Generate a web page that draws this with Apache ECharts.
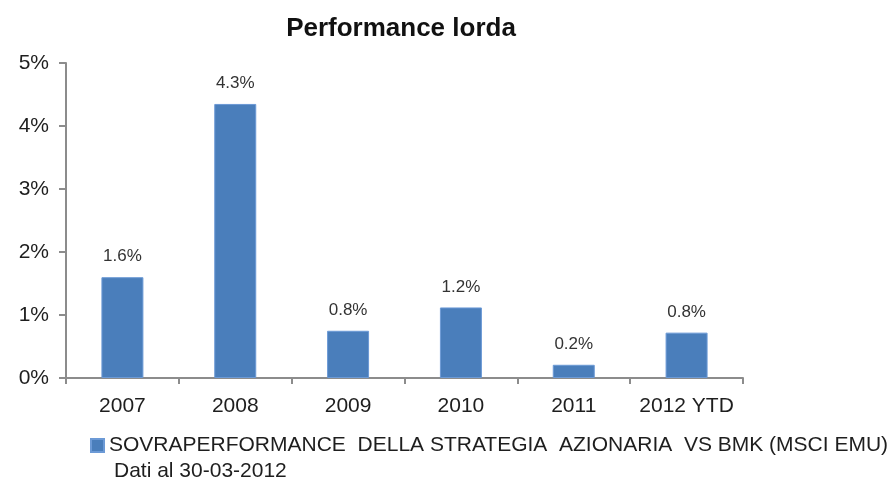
<!DOCTYPE html>
<html>
<head>
<meta charset="utf-8">
<script src="https://cdn.jsdelivr.net/npm/echarts@6/dist/echarts.min.js"></script>
<style>
  html, body { margin: 0; padding: 0; background: #fff; }
  #chart { width: 892px; height: 483px; }
</style>
</head>
<body>
<div id="chart"></div>
<script>
var categories = ['2007', '2008', '2009', '2010', '2011', '2012 YTD'];
var values = [1.6, 4.35, 0.75, 1.12, 0.21, 0.72];
var valueLabels = ['1.6%', '4.3%', '0.8%', '1.2%', '0.2%', '0.8%'];
var seriesName = 'SOVRAPERFORMANCE  DELLA STRATEGIA  AZIONARIA  VS BMK (MSCI EMU)';

var chart = echarts.init(document.getElementById('chart'));
var option = {
    textStyle: { fontFamily: 'Liberation Sans, Arial, sans-serif' },
    title: {
        text: 'Performance lorda',
        left: 396,
        textAlign: 'center',
        top: 11,
        textStyle: { fontSize: 26, fontWeight: 'bold', color: '#111' }
    },
    grid: { left: 66, right: 149, top: 63, bottom: 105 },
    legend: {
        left: 85,
        top: 430,
        itemWidth: 13,
        itemHeight: 13,
        icon: 'rect',
        textStyle: { fontSize: 21, color: '#1e1e1e' },
        data: [seriesName]
    },
    graphic: [{
        type: 'text',
        left: 114,
        top: 461,
        style: { text: 'Dati al 30-03-2012', fontSize: 21, fill: '#1e1e1e', fontFamily: 'Liberation Sans, Arial, sans-serif' }
    }],
    xAxis: {
        type: 'category',
        data: categories,
        axisLine: { lineStyle: { color: '#8c8c8c', width: 2 } },
        axisTick: { show: true, length: 6, lineStyle: { color: '#8c8c8c', width: 2 } },
        axisLabel: { fontSize: 21, color: '#1e1e1e', margin: 18, interval: 0 }
    },
    yAxis: {
        type: 'value',
        min: 0,
        max: 5,
        interval: 1,
        axisLine: { show: true, lineStyle: { color: '#8c8c8c', width: 2 } },
        axisTick: { show: true, length: 7, lineStyle: { color: '#8c8c8c', width: 2 } },
        splitLine: { show: false },
        axisLabel: { fontSize: 21, color: '#1e1e1e', margin: 17, formatter: '{value}%' }
    },
    series: [{
        name: seriesName,
        type: 'bar',
        data: values,
        barWidth: 42,
        itemStyle: { color: '#4a7ebb', borderColor: '#6c9ad6', borderWidth: 1 },
        label: {
            show: true,
            position: 'top',
            distance: 12,
            fontSize: 17,
            color: '#333',
            formatter: function (p) { return valueLabels[p.dataIndex]; }
        }
    }]
};
chart.setOption(option);
</script>
</body>
</html>
